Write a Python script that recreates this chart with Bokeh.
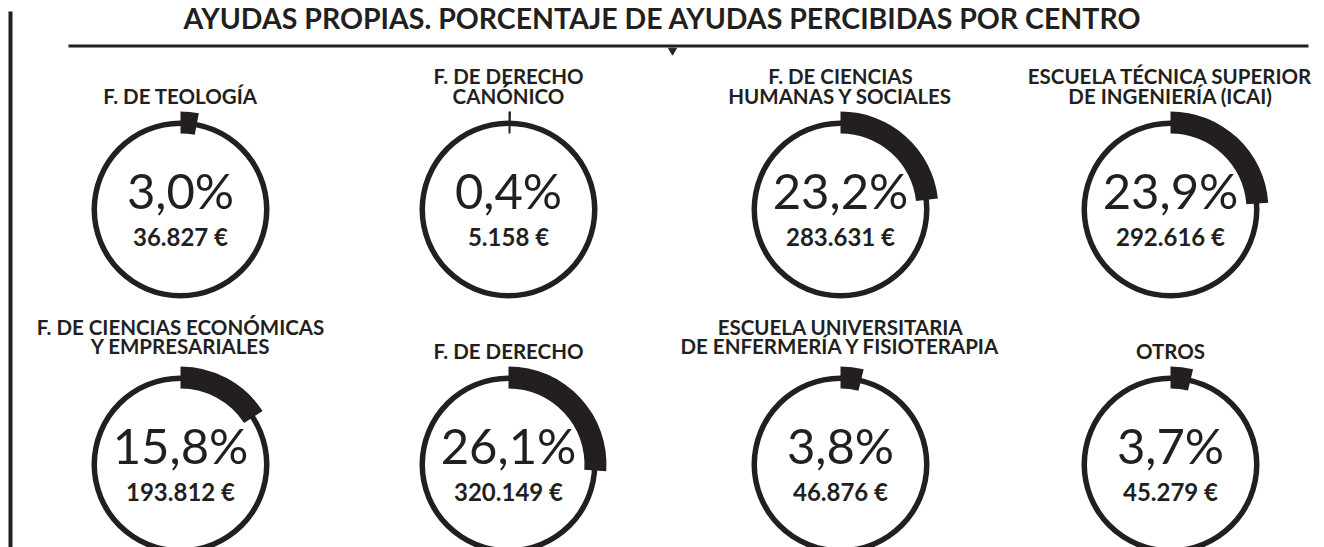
import math
from bokeh.plotting import figure
from bokeh.models import Range1d, ColumnDataSource
from bokeh.core.properties import value
from bokeh.embed import file_html
from bokeh.resources import INLINE

# ---------------- data ----------------
titulo = "AYUDAS PROPIAS. PORCENTAJE DE AYUDAS PERCIBIDAS POR CENTRO"
centros = [
    "F. DE TEOLOGÍA",
    "F. DE DERECHO\nCANÓNICO",
    "F. DE CIENCIAS\nHUMANAS Y SOCIALES",
    "ESCUELA TÉCNICA SUPERIOR\nDE INGENIERÍA (ICAI)",
    "F. DE CIENCIAS ECONÓMICAS\nY EMPRESARIALES",
    "F. DE DERECHO",
    "ESCUELA UNIVERSITARIA\nDE ENFERMERÍA Y FISIOTERAPIA",
    "OTROS",
]
porcentajes = [3.0, 0.4, 23.2, 23.9, 15.8, 26.1, 3.8, 3.7]
importes = [36827, 5158, 283631, 292616, 193812, 320149, 46876, 45279]

# ---------------- layout ----------------
W, H = 1324, 547
INK = "#231f20"
col_x = [180, 508, 840, 1170]
row_y = [209, 464]          # screen y of circle centres
label_gap = [106, 111]      # baseline of last label line above centre (two-line labels)
line_step = [20, 19]
R_RING_OUT, R_RING_IN = 89, 83.5
R_ARC_OUT, R_ARC_IN = 98, 76


def sy(y):
    # screen y (reference pixels) -> data y
    return H - y


p = figure(width=W, height=H, output_backend="svg", toolbar_location=None,
           x_range=Range1d(0, W), y_range=Range1d(0, H), min_border=0)
p.axis.visible = False
p.grid.visible = False
p.outline_line_color = None
p.background_fill_color = "white"
p.border_fill_color = "white"

# decorative frame
p.quad(left=[8], right=[12], bottom=[sy(547)], top=[sy(11)], color=INK, line_color=None)
p.segment(x0=[68], y0=[sy(45.5)], x1=[1308], y1=[sy(45.5)], line_color=INK, line_width=3)
p.scatter(x=[672], y=[sy(50)], marker="inverted_triangle", size=8, color=INK)

p.text(x=[662], y=[sy(17)], text=[titulo], text_font=value("Lato"), text_font_style="bold",
       text_font_size="28.5px", text_align="center", text_baseline="alphabetic", text_color=INK)

xs, ys, starts, ends, pct_txt, imp_txt = [], [], [], [], [], []
lx, ly, ltxt = [], [], []
for i, (c, pc, im) in enumerate(zip(centros, porcentajes, importes)):
    r, k = divmod(i, 4)
    cx, cy = col_x[k], row_y[r]
    xs.append(cx)
    ys.append(sy(cy))
    frac = pc / 100.0
    starts.append(math.pi / 2 - 2 * math.pi * frac)
    ends.append(math.pi / 2)
    pct_txt.append(f"{pc:.1f}".replace(".", ",") + "%")
    imp_txt.append(f"{im:,}".replace(",", ".") + " €")
    lines = c.split("\n")
    gap = label_gap[r] if len(lines) > 1 else 106
    last = cy - gap - 8
    for j, ln in enumerate(lines):
        lx.append(cx)
        ly.append(sy(last - line_step[r] * (len(lines) - 1 - j)))
        ltxt.append(ln)

src = ColumnDataSource(dict(x=xs, y=ys, start=starts, end=ends, pct=pct_txt, imp=imp_txt))

p.annulus(x="x", y="y", inner_radius=R_RING_IN, outer_radius=R_RING_OUT,
          inner_radius_units="screen", outer_radius_units="screen",
          source=src, fill_color=INK, line_color=None)
p.annular_wedge(x="x", y="y", inner_radius=R_ARC_IN, outer_radius=R_ARC_OUT,
                inner_radius_units="screen", outer_radius_units="screen",
                start_angle="start", end_angle="end", direction="anticlock",
                source=src, fill_color=INK, line_color=None)

p.text(x="x", y="y", text="pct", source=src, text_font=value("Lato"),
       text_font_size="49px", text_align="center", text_baseline="alphabetic",
       text_color=INK, y_offset=-20)
p.text(x="x", y="y", text="imp", source=src, text_font=value("Lato"),
       text_font_style="bold",
       text_font_size="24px", text_align="center", text_baseline="alphabetic",
       text_color=INK, y_offset=27)

p.text(x=lx, y=ly, text=ltxt, text_font=value("Lato"), text_font_style="bold",
       text_font_size="20.5px", text_align="center", text_baseline="alphabetic",
       text_color=INK)

open("out.html", "w").write(file_html(p, INLINE))
